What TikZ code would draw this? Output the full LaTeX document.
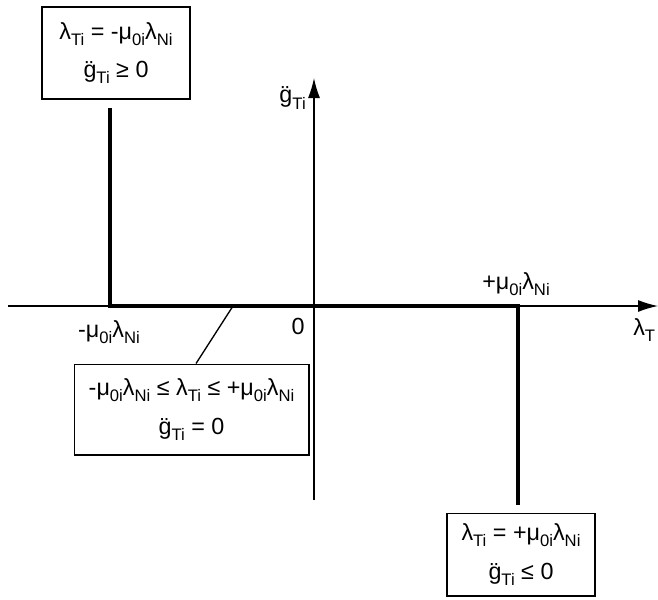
\documentclass[tikz,border=0pt]{standalone}
\usepackage{fontspec}
\setmainfont{Liberation Sans}
\usetikzlibrary{arrows.meta,positioning}
\newcommand{\sbs}[1]{\raisebox{-0.5ex}{\fontsize{12.5}{12.5}\selectfont #1}}
\newcommand{\gdd}{\"g}
\tikzset{
  box/.style={draw, line width=1pt, align=center, inner sep=0pt, font=\fontsize{17.5}{29}\selectfont},
  lbl/.style={font=\fontsize{17.5}{20}\selectfont, inner sep=0pt},
  axis/.style={line width=1pt, -{Latex[length=15pt,width=9pt]}},
  law/.style={line width=3pt},
}
\begin{document}
\begin{tikzpicture}[x=0.75pt,y=-0.75pt]
  \useasboundingbox (0,0) rectangle (658,600);
  \coordinate (o) at (314,306);
  \coordinate (xa) at (8,306);
  \coordinate (xb) at (658,306);
  \coordinate (ya) at (314,500);
  \coordinate (yb) at (314,78);
  \draw[axis] (xa) -- (xb);
  \draw[axis] (ya) -- (yb);

  \coordinate (k1) at (110,108);
  \coordinate (k2) at (110,306);
  \coordinate (k3) at (518,306);
  \coordinate (k4) at (518,505);
  \draw[law] (k1) -- (k2) -- (k3) -- (k4);

  \node[box, minimum width=111pt, minimum height=69pt] (stickneg) at (116,53)
    {λ\sbs{Ti} = -μ\sbs{0i}λ\sbs{Ni}\\ \gdd\sbs{Ti} ≥ 0};
  \node[box, minimum width=176pt, minimum height=68pt] (stick) at (191.5,409.5)
    {-μ\sbs{0i}λ\sbs{Ni} ≤ λ\sbs{Ti} ≤ +μ\sbs{0i}λ\sbs{Ni}\\ \gdd\sbs{Ti} = 0};
  \node[box, minimum width=111pt, minimum height=62pt] (stickpos) at (521,554.5)
    {λ\sbs{Ti} = +μ\sbs{0i}λ\sbs{Ni}\\ \gdd\sbs{Ti} ≤ 0};

  \coordinate (s) at (233,306);
  \draw[line width=1pt] (s) -- ([xshift=3.4pt]stick.north);

  \node[lbl] (mneg) at (109,332) {-μ\sbs{0i}λ\sbs{Ni}};
  \node[lbl] (mpos) at (516,284) {+μ\sbs{0i}λ\sbs{Ni}};
  \node[lbl] (zero) at (298,326) {0};
  \node[lbl, anchor=west] (xl) at (633,330) {λ\sbs{T}};
  \node[lbl, anchor=east] (yl) at (306,98) {\gdd\sbs{Ti}};
\end{tikzpicture}
\end{document}
